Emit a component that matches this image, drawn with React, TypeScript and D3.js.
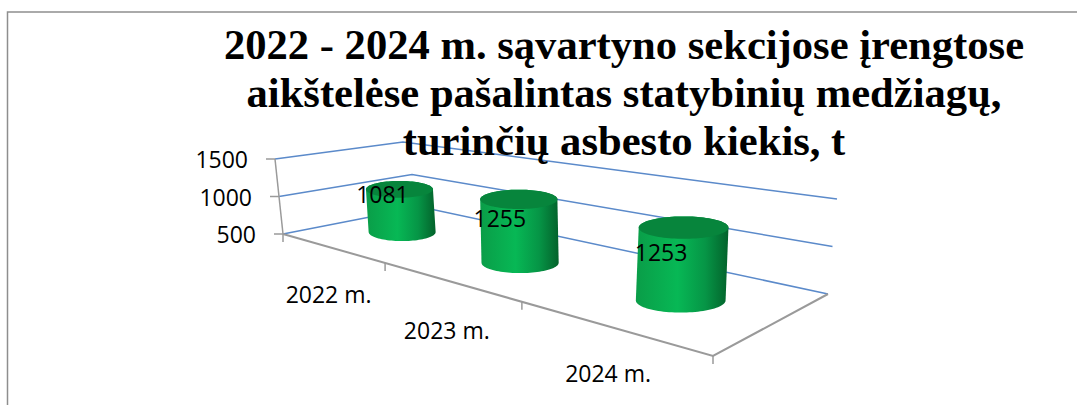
import React from 'react';
import * as d3 from 'd3';

const width = 1077;
const height = 405;

// chart data
const categories = ['2022 m.', '2023 m.', '2024 m.'];
const values = [1081, 1255, 1253];
const valueTicks = [500, 1000, 1500];
const titleLines = [
  '2022 - 2024 m. sąvartyno sekcijose įrengtose',
  'aikštelėse pašalintas statybinių medžiagų,',
  'turinčių asbesto kiekis, t',
];

type Pt = [number, number];

// the 3D box as seen in the picture: left, front, right, back corner
const floorQuad: Pt[] = [[283, 234], [713, 356], [828, 294], [421, 207]];
const topQuad: Pt[] = [[275, 159], [720, 240], [837, 199], [403, 142]];

// unit square -> quad (projective)
const homography = (q: Pt[]) => {
  const [[x0, y0], [x1, y1], [x2, y2], [x3, y3]] = q;
  const dx1 = x1 - x2, dx2 = x3 - x2, sx = x0 - x1 + x2 - x3;
  const dy1 = y1 - y2, dy2 = y3 - y2, sy = y0 - y1 + y2 - y3;
  const den = dx1 * dy2 - dx2 * dy1;
  const g = (sx * dy2 - dx2 * sy) / den;
  const h = (dx1 * sy - sx * dy1) / den;
  return (u: number, w: number): Pt => {
    const d = g * u + h * w + 1;
    return [
      ((x1 - x0 + g * x1) * u + (x3 - x0 + h * x3) * w + x0) / d,
      ((y1 - y0 + g * y1) * u + (y3 - y0 + h * y3) * w + y0) / d,
    ];
  };
};

const floor = homography(floorQuad);
const top = homography(topQuad);

const xBand = d3.scaleBand<string>().domain(categories).range([0, 1]);
const level = d3.scaleLinear().domain([500, 1500]).range([0, 1]);

// front axis ticks sit a little off the even band split in the source
const frontAxis = d3.scaleLinear().domain([0, 1 / 3, 2 / 3, 1]).range([0, 0.323, 0.657, 1]);

// walls and axes: u along the category axis, w into the depth, v a data value
const project = (u: number, w: number, v: number): Pt => {
  const a = floor(u, w);
  const b = top(u, w);
  const t = level(v);
  return [a[0] + (b[0] - a[0]) * t, a[1] + (b[1] - a[1]) * t];
};

// the cylinders stay upright: axis-aligned ellipses that grow towards the viewer
const fullHeight = d3.scaleLinear().domain([207, 300]).range([65, 96.6]);
const radiusX = d3.scaleLinear().domain([232, 300]).range([33.5, 44.8]);
const vanish: Pt = [575, 2960];
const cylinderNudge: Pt[] = [[-3.5, 0], [-5, 1.5], [1, 1.5]];

const cylinder = (cat: string, v: number) => {
  const i = categories.indexOf(cat);
  const [fx, fy] = floor(xBand(cat)! + xBand.bandwidth() / 2, 0.49);
  const bx = fx + cylinderNudge[i][0];
  const by = fy + cylinderNudge[i][1];
  const h = fullHeight(by) * level(v);
  const topC: Pt = [bx + ((bx - vanish[0]) / (vanish[1] - by)) * h, by - h];
  return { base: [bx, by] as Pt, topC, rx: radiusX(by) };
};

const line = d3.line<Pt>();
const angles = d3.range(0, 2 * Math.PI, Math.PI / 48);
const ellipse = ([cx, cy]: Pt, rx: number, ry: number): Pt[] =>
  angles.map((a) => [cx + rx * Math.cos(a), cy + ry * Math.sin(a)]);

// hand placed like the source chart, they do not sit on the bars
const labelOffsets: Pt[] = [[-17, 14], [-19, 28], [-22.5, 33]];
const catLabelOffsets: Pt[] = [[-4, 55], [-6, 57], [-4, 55]];

const GREY = '#9a9a9a';
const BLUE = '#5b8aca';
const SANS = '"Open Sans", sans-serif';

const App = () => {
  const boxEdge = (v: number) =>
    line([project(0, 0, v), project(0, 1, v), project(1, 1, v)]);

  return (
    <svg
      width={width}
      height={height}
      style={{ position: 'absolute', left: 0, top: 0, display: 'block', background: '#fff' }}
    >
      <defs>
        <linearGradient id="cyl" x1="0" x2="1" y1="0" y2="0">
          <stop offset="0" stopColor="#0a9d48" />
          <stop offset="0.45" stopColor="#07b855" />
          <stop offset="0.75" stopColor="#069546" />
          <stop offset="1" stopColor="#03622b" />
        </linearGradient>
      </defs>

      {/* frame */}
      <path d={`M7.5,${height}V12H${width}`} fill="none" stroke="#8e8e8e" strokeWidth={1.5} />

      {/* walls */}
      {valueTicks.map((v) => (
        <path key={v} d={boxEdge(v)!} fill="none" stroke={BLUE} strokeWidth={1.5} />
      ))}
      <path d={line([project(0, 0, 500), project(0, 0, 1500)])!} stroke={GREY} strokeWidth={1.5} />
      <path
        d={line([project(0, 0, 500), project(1, 0, 500), project(1, 1, 500)])!}
        fill="none"
        stroke={GREY}
        strokeWidth={2}
      />

      {/* value axis */}
      {valueTicks.map((v) => {
        const [x, y] = project(0, 0, v);
        return (
          <g key={v}>
            <path d={`M${x - 9},${y}H${x}`} stroke={GREY} strokeWidth={1.5} />
            <text x={x - 27} y={y + 9} textAnchor="end" fontFamily={SANS} fontSize={23} fill="#000">
              {v}
            </text>
          </g>
        );
      })}

      {/* category axis */}
      {[0, ...categories.map((c) => xBand(c)! + xBand.bandwidth())].map((u) => {
        const [tx, ty] = project(frontAxis(u), 0, 500);
        return <path key={u} d={`M${tx},${ty}v8`} stroke={GREY} strokeWidth={1.5} />;
      })}
      {categories.map((c, i) => {
        const [lx, ly] = project(xBand(c)! + xBand.bandwidth() / 2, 0, 500);
        return (
          <text
            key={c}
            x={lx + catLabelOffsets[i][0]}
            y={ly + catLabelOffsets[i][1]}
            textAnchor="middle"
            fontFamily={SANS}
            fontSize={23}
            fill="#000"
          >
            {c}
          </text>
        );
      })}

      {/* cylinders */}
      {categories.map((c, i) => {
        const { base, topC, rx } = cylinder(c, values[i]);
        const upper = ellipse(topC, rx, rx * 0.25);
        const hull = d3.polygonHull([...ellipse(base, rx, rx * 0.27), ...upper])!;
        return (
          <g key={c}>
            <path d={`${line(hull)}Z`} fill="url(#cyl)" />
            <path d={`${line(upper)}Z`} fill="#07853c" />
          </g>
        );
      })}

      {/* value labels */}
      {categories.map((c, i) => {
        const { topC } = cylinder(c, values[i]);
        return (
          <text
            key={c}
            x={topC[0] + labelOffsets[i][0]}
            y={topC[1] + labelOffsets[i][1]}
            textAnchor="middle"
            fontFamily={SANS}
            fontSize={23}
            fill="#000"
          >
            {values[i]}
          </text>
        );
      })}

      {/* title */}
      {titleLines.map((t, i) => (
        <text
          key={t}
          x={624}
          y={59 + i * 48}
          textAnchor="middle"
          fontFamily='"Liberation Serif", serif'
          fontWeight="bold"
          fontSize={42.6}
          fill="#000"
        >
          {t}
        </text>
      ))}
    </svg>
  );
};

export default App;
